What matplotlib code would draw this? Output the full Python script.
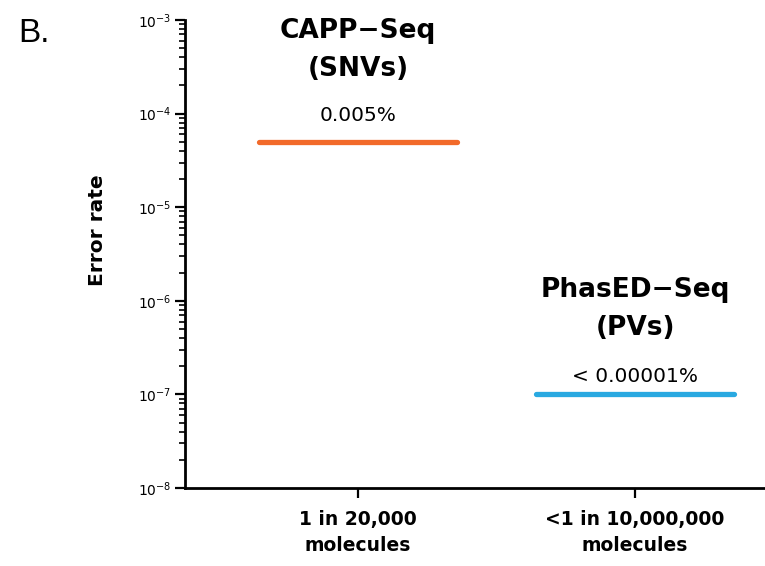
import matplotlib
matplotlib.use("Agg")
import matplotlib.pyplot as plt
import numpy as np

# Data.
Categories = ["1 in 20,000\nmolecules", "<1 in 10,000,000\nmolecules"]
ErrorRates = [5e-5, 1e-7]
MethodNames = ["CAPP\u2212Seq\n(SNVs)", "PhasED\u2212Seq\n(PVs)"]
RateLabels = ["0.005%", "< 0.00001%"]
Colours = ["#F26A2A", "#29A9E1"]

plt.rcParams["font.family"] = ["DejaVu Sans"]
plt.rcParams["mathtext.fontset"] = "custom"
plt.rcParams["mathtext.rm"] = "Noto Sans"
plt.rcParams["mathtext.it"] = "Noto Sans:italic"
plt.rcParams["mathtext.bf"] = "Noto Sans:bold"

Fig = plt.figure(figsize=(7.65, 5.66), dpi=100)
Ax = Fig.add_axes([185 / 765, 1 - 488 / 566, 1 - 185 / 765, (488 - 20) / 566])

HalfWidth = 0.356
X = np.arange(len(Categories))
for i, (Rate, Colour) in enumerate(zip(ErrorRates, Colours)):
	Ax.hlines(Rate, X[i] - HalfWidth, X[i] + HalfWidth, color=Colour, lw=3.8, capstyle="round")
	# Percent label just above the line, method name above that.
	Ax.annotate(RateLabels[i], (X[i], Rate), xytext=(0, [18.7, 13][i]), textcoords="offset points",
		ha="center", va="center", fontsize=14.5)
	Ax.annotate(MethodNames[i], (X[i], Rate), xytext=(0, [66, 61.5][i]), textcoords="offset points",
		ha="center", va="center", fontsize=19, fontweight="bold", linespacing=1.6)

Ax.set_yscale("log")
Ax.set_ylim(1e-8, 1e-3)
Ax.set_xlim(-0.6245, 1.469)
Ax.set_xticks(X)
Ax.set_xticklabels(Categories, fontsize=13.5, fontweight="bold", linespacing=1.45)
Ax.yaxis.set_minor_locator(matplotlib.ticker.LogLocator(base=10, subs=np.arange(2, 10)))
Ax.yaxis.set_minor_formatter(matplotlib.ticker.NullFormatter())

for Side in ["top", "right"]:
	Ax.spines[Side].set_visible(False)
for Side in ["left", "bottom"]:
	Ax.spines[Side].set_linewidth(2)
Ax.tick_params(axis="y", which="major", length=7, width=1.6, labelsize=10, pad=3)
Ax.tick_params(axis="y", which="minor", length=4, width=1.2)
Ax.tick_params(axis="x", which="major", length=7, width=1.6, pad=9)

Fig.text(98 / 765, 1 - 230 / 566, "Error rate", rotation=90, ha="center", va="center",
	fontsize=14.5, fontweight="bold")
Fig.text(18 / 765, 1 - 33 / 566, "B.", ha="left", va="center", fontsize=24, family="Liberation Sans")

Fig.savefig("out.png", dpi=100)
